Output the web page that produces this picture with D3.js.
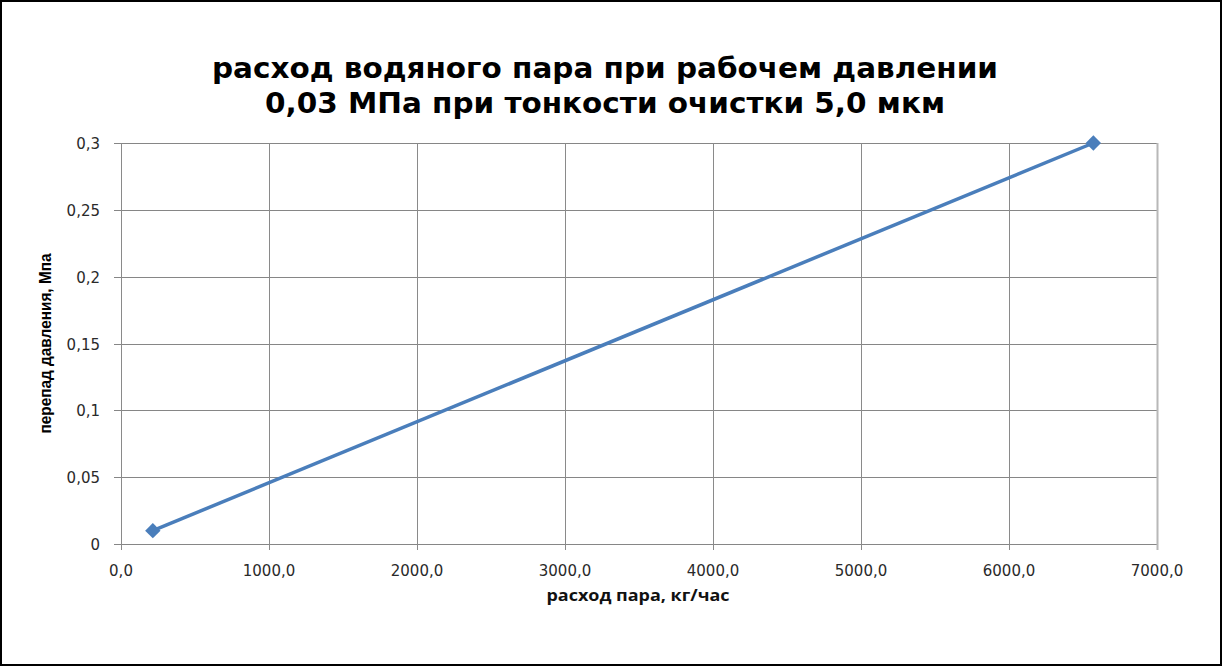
<!DOCTYPE html>
<html>
<head>
<meta charset="utf-8">
<script src="https://cdn.jsdelivr.net/npm/d3@7"></script>
<style>
  body { margin: 0; background: #fff; }
</style>
</head>
<body>
<div id="chart"></div>
<script>
const flow = [215, 6570];
const drop = [0.01, 0.3];
const xTicks = [0, 1000, 2000, 3000, 4000, 5000, 6000, 7000];
const yTicks = [0, 0.05, 0.1, 0.15, 0.2, 0.25, 0.3];
const titleLines = ["расход водяного пара при рабочем давлении", "0,03 МПа при тонкости очистки 5,0 мкм"];

const W = 1223, H = 667;
const margin = { top: 143, right: 66, bottom: 123, left: 121 };
const width = W - margin.left - margin.right;
const height = H - margin.top - margin.bottom;

const data = flow.map((f, i) => ({ x: f, y: drop[i] }));

const svg = d3.select("#chart")
  .append("svg")
  .attr("width", W)
  .attr("height", H);

svg.append("rect")
  .attr("x", 1).attr("y", 1)
  .attr("width", W - 3).attr("height", H - 3)
  .attr("fill", "#fff")
  .attr("stroke", "#000")
  .attr("stroke-width", 2);

const chart = svg.append("g")
  .attr("transform", `translate(${margin.left},${margin.top})`);

const x = d3.scaleLinear().domain([0, 7000]).range([0, width]);
const y = d3.scaleLinear().domain([0, 0.3]).range([height, 0]);

// gridlines
chart.selectAll(".hgrid")
  .data(yTicks)
  .enter().append("line")
  .attr("x1", -7).attr("x2", width)
  .attr("y1", d => Math.round(y(d)) + 0.5)
  .attr("y2", d => Math.round(y(d)) + 0.5)
  .attr("stroke", "#868686");

chart.selectAll(".vgrid")
  .data(xTicks)
  .enter().append("line")
  .attr("x1", d => Math.round(x(d)) + 0.5)
  .attr("x2", d => Math.round(x(d)) + 0.5)
  .attr("y1", 0).attr("y2", height + 6)
  .attr("stroke", d => d === 7000 ? "#b8b8b8" : "#8a8a8a")
  .attr("stroke-width", d => d === 7000 ? 2 : 1);

// tick labels
const fmtX = d => d3.format(".1f")(d).replace(".", ",");
const fmtY = d => d === 0 ? "0" : String(d).replace(".", ",");

chart.selectAll(".xl")
  .data(xTicks)
  .enter().append("text")
  .attr("x", d => x(d))
  .attr("y", height + 32)
  .attr("text-anchor", "middle")
  .style("font-family", "DejaVu Sans, Verdana, sans-serif")
  .style("font-size", "15px")
  .attr("fill", "#2a2a2a")
  .text(fmtX);

chart.selectAll(".yl")
  .data(yTicks)
  .enter().append("text")
  .attr("x", -21)
  .attr("y", d => y(d) + 6)
  .attr("text-anchor", "end")
  .style("font-family", "DejaVu Sans, Verdana, sans-serif")
  .style("font-size", "15px")
  .attr("fill", "#2a2a2a")
  .text(fmtY);

// series
const line = d3.line().x(d => x(d.x)).y(d => y(d.y));

chart.append("path")
  .datum(data)
  .attr("fill", "none")
  .attr("stroke", "#4a7ebb")
  .attr("stroke-width", 3.5)
  .attr("d", line);

chart.selectAll(".pt")
  .data(data)
  .enter().append("path")
  .attr("transform", d => `translate(${x(d.x)},${y(d.y)})`)
  .attr("d", d3.symbol(d3.symbolDiamond2, 150)())
  .attr("fill", "#4a7ebb");

// title (two lines, tight font so the lines do not collide)
const titleWidths = [786, 680];
svg.selectAll(".title")
  .data(titleLines)
  .enter().append("text")
  .attr("x", 605)
  .attr("y", (d, i) => 78 + i * 35)
  .attr("text-anchor", "middle")
  .attr("textLength", (d, i) => titleWidths[i])
  .attr("lengthAdjust", "spacingAndGlyphs")
  .style("font-family", "DejaVu Sans, sans-serif")
  .style("font-size", "28px")
  .style("font-weight", "bold")
  .attr("fill", "#000")
  .text(d => d);

// axis titles
svg.append("text")
  .attr("x", 638)
  .attr("y", 601)
  .attr("text-anchor", "middle")
  .attr("textLength", 183)
  .attr("lengthAdjust", "spacingAndGlyphs")
  .style("font-family", "Open Sans, sans-serif")
  .style("font-size", "16px")
  .style("font-weight", "bold")
  .attr("fill", "#111")
  .text("расход пара, кг/час");

svg.append("text")
  .attr("transform", "rotate(-90)")
  .attr("x", -(margin.top + height / 2))
  .attr("y", 51)
  .attr("text-anchor", "middle")
  .attr("textLength", 180)
  .attr("lengthAdjust", "spacingAndGlyphs")
  .style("font-family", "Liberation Sans Narrow, Arial Narrow, Liberation Sans, sans-serif")
  .style("font-size", "17px")
  .style("font-weight", "bold")
  .text("перепад давления, Мпа");
</script>
</body>
</html>
